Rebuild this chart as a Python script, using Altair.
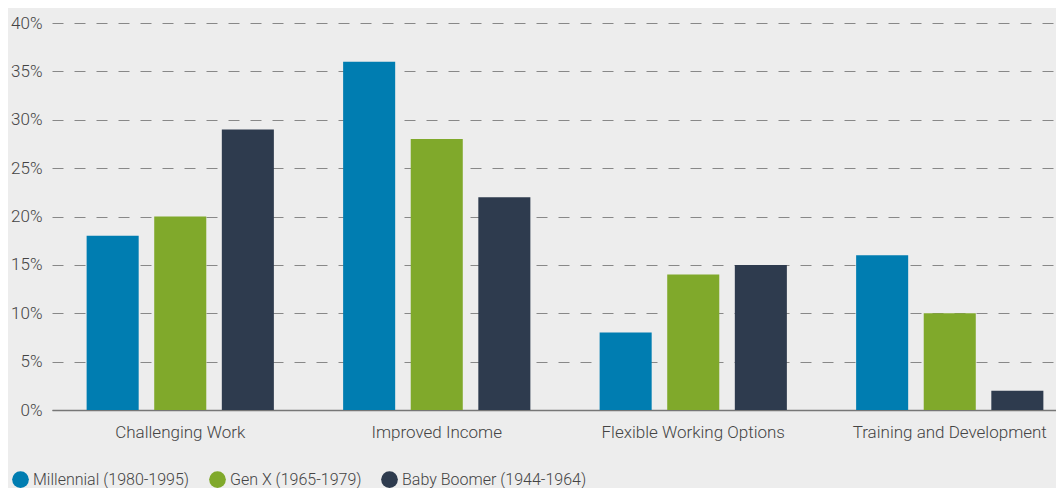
import altair as alt
import pandas as pd

categories = ["Challenging Work", "Improved Income", "Flexible Working Options", "Training and Development"]
generations = ["Millennial (1980-1995)", "Gen X (1965-1979)", "Baby Boomer (1944-1964)"]
millennial = [18, 36, 8, 16]
genx = [20, 28, 14, 10]
boomer = [29, 22, 15, 2]
colors = ["#007DB1", "#80A92B", "#2E3B4E"]

rows = []
for i, c in enumerate(categories):
    for g, vals in zip(generations, [millennial, genx, boomer]):
        rows.append({"category": c, "generation": g, "value": vals[i] / 100})
df = pd.DataFrame(rows)

FONT = "Roboto"

chart = alt.Chart(df).mark_bar().encode(
    x=alt.X("category:N", sort=categories, title=None,
            scale=alt.Scale(paddingInner=0.27, paddingOuter=0.135, range=[0, 1026]),
            axis=alt.Axis(labelAngle=0, ticks=False, labelPadding=14, labelFontSize=17,
                          labelColor="#444444", labelFont=FONT, labelFontWeight=300,
                          labelLimit=0,
                          domainColor="#777777", domainWidth=1.5, grid=False)),
    xOffset=alt.XOffset("generation:N", sort=generations,
                        scale=alt.Scale(paddingInner=0.23, paddingOuter=0)),
    y=alt.Y("value:Q", title=None,
            scale=alt.Scale(domain=[0, 0.4], nice=False),
            axis=alt.Axis(format=".0%", values=[0, 0.05, 0.1, 0.15, 0.2, 0.25, 0.3, 0.35, 0.4],
                          ticks=False, domain=False, labelPadding=10, labelFontSize=17,
                          labelColor="#444444", labelFont=FONT, labelFontWeight=300,
                          gridDash=[11, 11], gridColor="#888888", gridWidth=1)),
    color=alt.Color("generation:N", sort=generations,
                    scale=alt.Scale(domain=generations, range=colors),
                    legend=alt.Legend(title=None, orient="none", direction="horizontal",
                                      legendX=-40, legendY=448, symbolType="circle",
                                      symbolSize=280, symbolStrokeWidth=0, symbolOpacity=1,
                                      labelFontSize=16, labelFont=FONT, labelFontWeight=300,
                                      labelColor="#444444", labelOffset=4, columnPadding=19,
                                      labelLimit=0)),
).properties(
    width=1004, height=387,
    background="#EDEDED",
    autosize=alt.AutoSizeParams(type="none"),
    padding={"left": 44, "top": 15, "right": 0, "bottom": 78},
).configure_view(stroke=None)

chart.save("out.html", embed_options={"renderer": "svg", "actions": False})
